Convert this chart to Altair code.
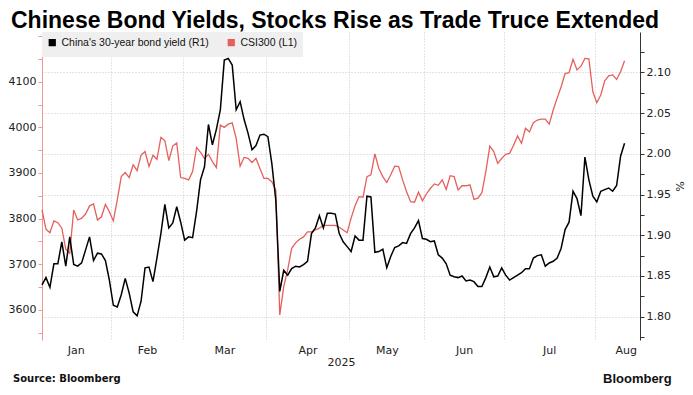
import altair as alt
import pandas as pd

# ---------------- data ----------------
months = ["Jan", "Feb", "Mar", "Apr", "May", "Jun", "Jul", "Aug"]
month_trading_days = [18, 18, 21, 21, 19, 20, 23, 21]

csi300 = [3819, 3777, 3769, 3795, 3791, 3779, 3733, 3724, 3819, 3797,
          3801, 3810, 3828, 3832, 3797, 3804, 3831, 3815, 3795, 3841,
          3892, 3901, 3890, 3918, 3905, 3939, 3947, 3914, 3939, 3930,
          3978, 3971, 3927, 3959, 3966, 3890, 3888, 3885, 3903, 3956,
          3945, 3932, 3941, 3925, 3912, 4005, 4000, 4007, 4010, 3976,
          3915, 3934, 3932, 3923, 3932, 3910, 3888, 3888, 3881, 3863,
          3589, 3651, 3688, 3735, 3747, 3755, 3760, 3771, 3771, 3775,
          3779, 3785, 3785, 3785, 3785, 3781, 3775, 3769, 3801, 3828,
          3848, 3847, 3892, 3896, 3942, 3910, 3892, 3879, 3896, 3915,
          3914, 3885, 3859, 3837, 3836, 3858, 3839, 3854, 3866, 3876,
          3873, 3885, 3864, 3894, 3892, 3863, 3872, 3872, 3874, 3842,
          3845, 3857, 3903, 3959, 3947, 3921, 3932, 3941, 3943, 3961,
          3981, 3965, 3998, 3990, 4010, 4016, 4018, 4018, 4007, 4038,
          4064, 4089, 4118, 4120, 4149, 4126, 4134, 4151, 4150, 4078,
          4054, 4071, 4102, 4113, 4115, 4105, 4122, 4146]

bond_yield = [1.839, 1.848, 1.836, 1.865, 1.865, 1.892, 1.862, 1.898, 1.864, 1.862,
              1.866, 1.882, 1.898, 1.869, 1.878, 1.877, 1.869, 1.845, 1.814, 1.812,
              1.827, 1.847, 1.829, 1.806, 1.801, 1.819, 1.860, 1.861, 1.843, 1.872,
              1.902, 1.938, 1.909, 1.915, 1.935, 1.916, 1.894, 1.898, 1.897, 1.929,
              1.968, 1.984, 2.036, 2.011, 2.030, 2.054, 2.115, 2.117, 2.109, 2.054,
              2.064, 2.042, 2.025, 2.005, 2.010, 2.023, 2.024, 2.021, 1.988, 1.943,
              1.831, 1.857, 1.851, 1.859, 1.862, 1.861, 1.864, 1.868, 1.902, 1.909,
              1.924, 1.909, 1.927, 1.927, 1.926, 1.902, 1.892, 1.886, 1.880, 1.899,
              1.894, 1.894, 1.948, 1.947, 1.879, 1.880, 1.883, 1.860, 1.874, 1.885,
              1.887, 1.891, 1.890, 1.902, 1.909, 1.918, 1.896, 1.895, 1.892, 1.893,
              1.876, 1.872, 1.865, 1.851, 1.849, 1.848, 1.850, 1.844, 1.845, 1.843,
              1.837, 1.837, 1.848, 1.861, 1.849, 1.850, 1.860, 1.851, 1.845, 1.848,
              1.851, 1.854, 1.859, 1.859, 1.872, 1.875, 1.876, 1.862, 1.866, 1.868,
              1.872, 1.884, 1.907, 1.916, 1.954, 1.945, 1.924, 1.996, 1.968, 1.948,
              1.941, 1.954, 1.956, 1.958, 1.954, 1.961, 1.997, 2.013]

csi_ticks = [3550, 3600, 3650, 3700, 3750, 3800, 3850, 3900, 3950, 4000, 4050, 4100, 4150, 4200]
csi_labels = [3600, 3700, 3800, 3900, 4000, 4100]
yield_ticks = [1.775, 1.8, 1.825, 1.85, 1.875, 1.9, 1.925, 1.95, 1.975, 2.0, 2.025, 2.05, 2.075, 2.1, 2.125]
yield_labels = [1.8, 1.85, 1.9, 1.95, 2.0, 2.05, 2.1]

bond_name = "China's 30-year bond yield  (R1)"
csi_name = "CSI300 (L1)"

# ---------------- derived ----------------
n = len(csi300)
x_max = n - 1 + 3.9
bounds, mids = [], []
start = 0
for d in month_trading_days:
    mids.append(start + d / 2 - 0.5)
    start += d
    if start - 0.5 < x_max:
        bounds.append(start - 0.5)
bounds = bounds[:len(months) - 1]

label_expr = "''"
for m, name in reversed(list(zip(mids, months))):
    label_expr = f"datum.value == {m} ? '{name}' : " + label_expr

df_csi = pd.DataFrame({"i": range(n), "v": csi300, "series": csi_name})
df_bond = pd.DataFrame({"i": range(n), "v": bond_yield, "series": bond_name})

RED = "#e5605d"
RED_AXIS = "#ec9a98"
GRID = "#c8c8c8"
NUM_FONT = "DejaVu Sans"
SANS = "Liberation Sans"

x_axis = alt.Axis(
    values=bounds + mids, grid=True, gridColor=GRID, gridDash=[1, 2], gridWidth=1,
    gridOpacity={"condition": {"test": f"indexof({bounds}, datum.value) >= 0", "value": 1}, "value": 0},
    ticks=False, domain=False, labelExpr=label_expr, labelFlush=6,
    labelFont=NUM_FONT, labelFontSize=11, labelColor="#222", labelPadding=4,
    title="2025", titleFont=NUM_FONT, titleFontSize=11, titleFontWeight="normal",
    titleColor="#222", titlePadding=1,
)
x_enc = alt.X("i:Q", scale=alt.Scale(domain=[0, x_max], nice=False, zero=False), axis=x_axis)

color_scale = alt.Scale(domain=[bond_name, csi_name], range=["#000000", RED])
legend = alt.Legend(
    title=None, orient="none", legendX=0, legendY=0, direction="horizontal",
    fillColor="#efefef", padding=5, symbolType="square", symbolSize=14,
    symbolStrokeWidth=3.5, labelFont=SANS, labelFontSize=10.5, labelColor="#111",
    labelLimit=400, columnPadding=10, symbolOffset=0,
)

csi_line = alt.Chart(df_csi).mark_line(strokeWidth=1.3).encode(
    x=x_enc,
    y=alt.Y("v:Q", scale=alt.Scale(domain=[3534, 4209], nice=False, zero=False),
            axis=alt.Axis(orient="left", values=csi_ticks, grid=False, title=None, format="d",
                          labelExpr=f"indexof({csi_labels}, datum.value) >= 0 ? datum.label : ''",
                          domainColor=RED_AXIS, tickColor=RED_AXIS, tickSize=4,
                          labelFont=NUM_FONT, labelFontSize=11, labelColor="#222",
                          labelPadding=2)),
    color=alt.Color("series:N", scale=color_scale, legend=legend),
)

bond_line = alt.Chart(df_bond).mark_line(strokeWidth=1.5).encode(
    x=x_enc,
    y=alt.Y("v:Q", scale=alt.Scale(domain=[1.7714, 2.1495], nice=False, zero=False),
            axis=alt.Axis(orient="right", values=yield_ticks, grid=True,
                          gridColor=GRID, gridDash=[1, 2], gridWidth=1,
                          gridOpacity={"condition": {"test": f"indexof({yield_labels}, datum.value) >= 0", "value": 1}, "value": 0},
                          labelExpr=f"indexof({yield_labels}, datum.value) >= 0 ? format(datum.value, '.2f') : ''",
                          domainColor="#333", tickColor="#333", tickSize=4,
                          labelFont=NUM_FONT, labelFontSize=11, labelColor="#222",
                          labelPadding=2, title="%", titleFont=NUM_FONT,
                          titleFontSize=11, titleFontWeight="normal", titleColor="#222",
                          titleAngle=90, titlePadding=3)),
    color=alt.Color("series:N", scale=color_scale, legend=legend),
)

note = pd.DataFrame({"t": [""]})
source = alt.Chart(note).mark_text(
    text="Source: Bloomberg", align="left", baseline="alphabetic",
    font=NUM_FONT, fontSize=10, fontWeight="bold", color="#111",
).encode(x=alt.value(-29), y=alt.value(350))
brand = alt.Chart(note).mark_text(
    text="Bloomberg", align="left", baseline="alphabetic",
    font=SANS, fontSize=13, fontWeight="bold", color="#111",
).encode(x=alt.value(561), y=alt.value(351))

chart = alt.layer(csi_line, bond_line, source, brand).resolve_scale(
    y="independent"
).properties(
    width=598, height=308,
    autosize=alt.AutoSizeParams(type="none"),
    padding={"left": 34, "top": 24, "right": 45, "bottom": 47},
    title=alt.Title("Chinese Bond Yields, Stocks Rise as Trade Truce Extended",
                    anchor="start", frame="group", dx=-31, offset=-1, fontSize=23,
                    font=SANS, fontWeight="bold", color="#000"),
    background="white",
).configure_view(stroke=None)

chart.save("out.html", embed_options={"renderer": "svg", "actions": False})
